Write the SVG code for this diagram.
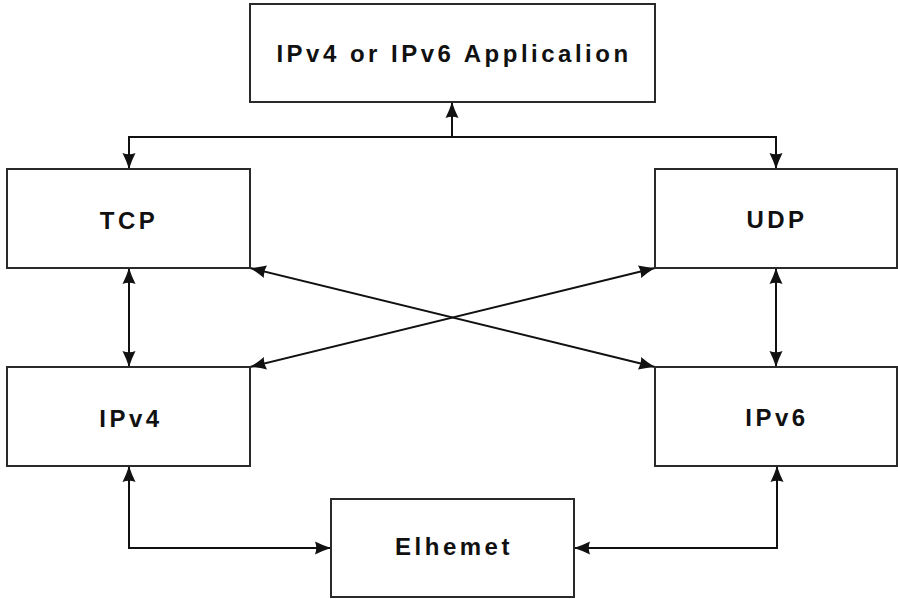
<svg xmlns="http://www.w3.org/2000/svg" width="898" height="599" viewBox="0 0 898 599">
<style>
.box{fill:#fff;stroke:#2a2a2a;stroke-width:2}
.lbl{font-family:"Liberation Sans",Arial,sans-serif;font-weight:bold;font-size:24px;letter-spacing:3.5px;fill:#111;text-anchor:middle}
.con{fill:none;stroke:#111;stroke-width:2}
</style>
<defs>
<marker id="ah" markerUnits="userSpaceOnUse" viewBox="0 0 16 14" refX="16" refY="7" markerWidth="16" markerHeight="14" orient="auto-start-reverse">
<path d="M0,0.5 Q8,4.5 16,7 Q8,9.5 0,13.5 Q2.5,7 0,0.5 Z" fill="#111"/>
</marker>
</defs>
<rect width="898" height="599" fill="#fff"/>
<g id="connectors">
<path class="con" d="M129,169 V137 H776 V169" marker-start="url(#ah)" marker-end="url(#ah)"/>
<path class="con" d="M452,137 V102" marker-end="url(#ah)"/>
<path class="con" d="M129,268 V367" marker-start="url(#ah)" marker-end="url(#ah)"/>
<path class="con" d="M776,268 V367" marker-start="url(#ah)" marker-end="url(#ah)"/>
<path class="con" d="M250,268 L655,367" marker-start="url(#ah)" marker-end="url(#ah)"/>
<path class="con" d="M655,268 L250,367" marker-start="url(#ah)" marker-end="url(#ah)"/>
<path class="con" d="M129,466 V548 H331" marker-start="url(#ah)" marker-end="url(#ah)"/>
<path class="con" d="M777,466 V548 H574" marker-start="url(#ah)" marker-end="url(#ah)"/>
</g>
<g id="app">
<rect class="box" x="250" y="4" width="405" height="98"/>
<text class="lbl" x="454" y="62">IPv4 or IPv6 Applicalion</text>
</g>
<g id="tcp">
<rect class="box" x="7" y="169" width="243" height="99"/>
<text class="lbl" x="129" y="229">TCP</text>
</g>
<g id="udp">
<rect class="box" x="655" y="169" width="242" height="99"/>
<text class="lbl" x="777" y="228">UDP</text>
</g>
<g id="ipv4">
<rect class="box" x="7" y="367" width="243" height="99"/>
<text class="lbl" x="131" y="427">IPv4</text>
</g>
<g id="ipv6">
<rect class="box" x="655" y="367" width="242" height="99"/>
<text class="lbl" x="777" y="426">IPv6</text>
</g>
<g id="ethernet">
<rect class="box" x="331" y="499" width="243" height="98"/>
<text class="lbl" x="454" y="555">Elhemet</text>
</g>
</svg>
